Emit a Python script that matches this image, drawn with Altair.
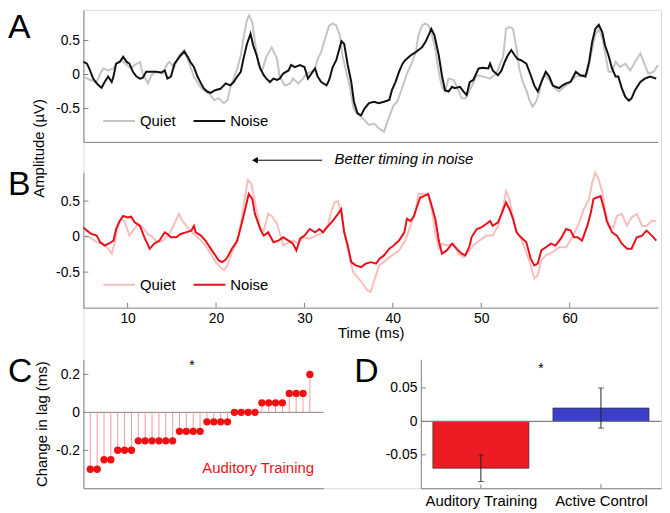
import altair as alt
import pandas as pd

FONT = "Liberation Sans"
AXC = "#808080"

# ---------------- data ----------------
a_quiet_t = [5.0,5.75,6.5,6.9,7.25,7.8,8.4,8.7,9.3,9.9,10.4,10.8,11.4,11.7,12.3,12.7,13.2,14.0,14.4,14.7,15.3,15.8,16.4,16.9,17.5,18.1,18.6,19.2,19.8,20.3,20.9,21.3,21.6,22.0,22.4,22.8,23.1,23.5,23.76,24.1,24.4,24.8,25.2,25.7,26.3,26.9,27.2,27.8,28.4,28.7,29.3,29.85,30.2,30.8,31.2,31.5,31.9,32.5,32.8,33.2,33.6,34.0,34.3,34.7,35.1,35.6,36.2,36.8,37.3,37.9,38.4,39.0,39.4,39.8,40.1,40.5,41.1,41.6,42.2,42.6,42.9,43.3,43.7,44.05,44.4,44.8,45.2,45.55,45.9,46.3,46.9,47.4,47.8,48.2,48.7,49.5,50.2,51.0,51.7,52.1,52.5,52.8,53.2,53.6,54.0,54.3,54.7,55.1,55.45,55.8,56.2,56.6,56.9,57.3,57.7,58.25,58.8,59.4,59.9,60.7,61.4,62.0,62.55,62.9,63.3,63.7,64.0,64.4,64.8,65.2,65.7,66.3,66.85,67.4,68.0,68.3,68.9,69.5,70.0]
a_quiet_v = [-0.03,-0.08,-0.11,0.015,0.09,0.06,0.09,0.16,0.21,0.14,0.09,0.14,0.185,0.015,-0.13,-0.01,0.04,0.015,0.14,0.185,0.11,0.28,0.36,0.185,-0.03,-0.16,-0.23,-0.28,-0.375,-0.35,-0.42,-0.375,-0.2,-0.06,0.09,0.28,0.53,0.8,0.87,0.77,0.48,0.14,0.06,0.26,0.4,0.23,-0.03,-0.16,-0.13,-0.06,-0.13,-0.06,0.015,0.04,0.09,0.23,0.33,0.6,0.72,0.75,0.72,0.58,0.28,0.06,-0.16,-0.52,-0.6,-0.67,-0.74,-0.72,-0.79,-0.84,-0.69,-0.55,-0.45,-0.4,-0.18,0.015,0.185,0.33,0.58,0.72,0.75,0.72,0.6,0.38,0.04,-0.18,-0.25,-0.06,-0.08,-0.23,-0.35,-0.35,-0.23,-0.01,-0.03,-0.06,0.015,0.14,0.28,0.67,0.7,0.67,0.38,0.09,-0.11,-0.23,-0.375,-0.47,-0.4,-0.25,-0.06,-0.01,-0.08,-0.2,-0.25,-0.18,-0.13,-0.03,-0.01,0.015,0.38,0.58,0.67,0.53,0.33,0.04,0.04,0.185,0.11,0.16,0.06,0.185,0.31,0.21,0.015,0.04,0.14]

a_noise_t = [5.0,5.4,5.75,6.1,6.5,6.9,7.06,7.4,7.8,8.2,8.4,8.7,9.1,9.5,9.9,10.2,10.6,11.0,11.4,11.7,12.1,12.7,13.2,13.8,14.2,14.5,14.9,15.3,15.7,16.0,16.4,16.8,17.1,17.5,17.9,18.3,18.6,19.0,19.4,19.9,20.5,21.1,21.6,22.0,22.4,22.8,23.1,23.5,23.9,24.2,24.6,25.0,25.4,25.7,26.1,26.5,26.9,27.2,27.6,28.2,28.5,28.9,29.5,30.0,30.4,30.8,31.2,31.5,31.9,32.5,32.8,33.2,33.6,34.0,34.2,34.5,34.9,35.3,35.6,36.0,36.4,36.8,37.3,37.9,38.4,39.0,39.6,39.9,40.3,40.7,41.1,41.4,42.0,42.6,42.9,43.3,43.7,44.05,44.35,44.7,45.2,45.55,45.9,46.3,46.7,47.0,47.6,48.0,48.35,48.7,49.1,49.7,50.2,50.8,51.0,51.3,51.9,52.3,52.65,53.0,53.4,53.8,54.1,54.5,55.1,55.6,56.0,56.4,56.8,57.3,57.7,58.1,58.4,58.8,59.2,59.6,60.1,60.7,61.2,61.8,62.2,62.55,62.9,63.3,63.7,64.0,64.4,64.8,65.2,65.5,65.9,66.3,66.7,67.0,67.4,68.0,68.5,69.1,69.8]
a_noise_v = [0.185,0.16,0.06,-0.06,-0.13,-0.18,-0.195,-0.11,-0.03,-0.11,-0.03,0.16,0.185,0.26,0.185,0.16,0.04,-0.03,-0.06,-0.05,0.04,0.04,0.04,0.03,0.06,-0.06,-0.03,0.16,0.23,0.28,0.34,0.26,0.185,0.11,-0.03,-0.13,-0.2,-0.25,-0.27,-0.23,-0.21,-0.13,-0.16,-0.11,-0.03,0.04,0.23,0.45,0.6,0.43,0.28,0.09,-0.01,-0.06,-0.11,-0.06,-0.08,-0.06,0.015,0.06,0.14,0.11,0.14,0.11,-0.06,0.015,0.09,-0.03,-0.11,-0.16,-0.08,0.11,0.21,0.4,0.49,0.45,0.14,-0.11,-0.4,-0.57,-0.6,-0.5,-0.42,-0.4,-0.42,-0.4,-0.375,-0.23,-0.11,0.04,0.16,0.21,0.28,0.33,0.36,0.4,0.48,0.58,0.67,0.58,0.28,-0.01,-0.23,-0.25,-0.18,-0.2,-0.18,-0.25,-0.3,-0.11,-0.08,0.09,0.1,0.09,0.16,0.06,-0.01,0.06,0.185,0.28,0.36,0.28,0.23,0.21,0.16,-0.01,-0.16,-0.25,-0.11,0.04,-0.03,-0.16,-0.18,-0.2,-0.16,-0.13,-0.11,0.04,-0.01,-0.03,0.185,0.48,0.67,0.73,0.62,0.43,0.28,0.09,-0.03,-0.03,-0.2,-0.33,-0.385,-0.35,-0.23,-0.11,-0.06,-0.03,-0.06]

b_quiet_t = [5.0,5.75,6.5,7.25,7.8,8.2,8.55,8.9,9.3,9.7,10.2,10.6,11.2,11.7,12.3,12.85,13.4,14.0,14.7,15.3,15.8,16.2,16.8,17.5,18.3,18.8,19.4,19.95,20.5,20.9,21.3,21.8,22.4,22.9,23.3,23.6,24.0,24.4,25.0,25.4,25.9,26.3,26.9,27.6,28.2,28.7,29.3,29.85,30.6,31.35,32.1,32.7,33.0,33.4,33.8,34.15,34.5,34.9,35.5,36.0,36.6,37.1,37.5,37.9,38.45,39.2,39.9,40.7,41.4,42.0,42.6,42.9,43.5,44.05,44.4,44.8,45.2,45.55,46.1,46.9,47.4,48.0,48.7,49.1,49.8,50.6,51.3,51.9,52.5,52.8,53.2,53.6,54.0,54.5,55.1,55.6,56.0,56.4,56.8,57.3,58.1,58.8,59.6,60.3,61.1,61.6,62.2,62.55,62.9,63.3,63.7,64.0,64.4,64.95,65.35,65.9,66.5,67.0,67.6,68.2,68.7,69.3,69.8]
b_quiet_v = [0.014,-0.01,-0.08,-0.1,-0.17,-0.24,-0.08,0.15,0.25,0.2,0.014,0.084,0.18,0.13,0.037,-0.01,-0.08,-0.056,0.037,0.18,0.32,0.22,0.13,0.037,-0.056,-0.126,-0.24,-0.36,-0.43,-0.475,-0.405,-0.22,-0.08,0.25,0.57,0.8,0.74,0.48,0.13,0.084,0.32,0.29,0.18,-0.126,-0.08,-0.056,-0.1,-0.01,-0.03,0.014,0.06,0.18,0.34,0.48,0.5,0.34,0.06,-0.17,-0.5,-0.57,-0.66,-0.755,-0.78,-0.615,-0.405,-0.335,-0.265,-0.195,-0.056,0.15,0.386,0.6,0.6,0.57,0.386,0.06,-0.17,-0.1,-0.126,-0.1,-0.24,-0.29,-0.195,-0.126,-0.056,0.014,0.014,0.15,0.43,0.64,0.53,0.25,0.06,-0.03,-0.22,-0.405,-0.59,-0.545,-0.335,-0.265,-0.22,-0.15,-0.15,-0.01,0.2,0.386,0.53,0.76,0.9,0.8,0.62,0.386,0.15,0.13,0.29,0.32,0.15,0.27,0.32,0.15,0.15,0.22,0.22]

b_noise_t = [5.0,5.4,5.9,6.5,6.9,7.4,8.0,8.4,8.7,9.1,9.5,10.0,10.4,10.8,11.4,11.9,12.5,13.0,13.6,14.2,14.5,14.9,15.5,16.0,16.6,17.2,17.5,17.7,18.3,18.8,19.4,19.95,20.3,20.7,21.1,21.4,21.8,22.4,22.9,23.3,23.7,24.1,24.4,25.0,25.4,25.9,26.5,27.05,27.6,28.2,28.7,29.1,29.5,30.0,30.6,31.2,31.7,32.1,32.7,33.2,33.8,34.15,34.5,34.9,35.3,35.8,36.4,36.95,37.5,38.1,38.5,39.0,39.6,40.1,40.7,41.3,41.6,42.0,42.4,42.7,43.1,43.5,44.0,44.4,44.8,45.2,45.55,46.1,46.7,47.2,47.8,48.2,48.7,48.9,49.5,50.0,50.6,51.0,51.3,51.9,52.3,52.8,53.2,53.6,54.0,54.5,55.1,55.6,56.0,56.4,56.8,57.3,57.9,58.4,59.0,59.6,60.1,60.5,60.9,61.4,62.0,62.4,62.7,63.1,63.5,63.9,64.2,64.8,65.35,65.9,66.5,67.0,67.6,68.2,68.7,69.3,69.8]
b_noise_v = [0.13,0.084,0.037,0.014,-0.08,-0.126,-0.09,-0.056,0.107,0.22,0.29,0.27,0.28,0.2,0.15,-0.01,-0.17,-0.1,-0.056,0.06,0.037,-0.01,-0.01,0.037,0.06,0.084,0.15,0.06,0.014,-0.056,-0.17,-0.27,-0.335,-0.36,-0.325,-0.265,-0.17,-0.056,0.18,0.386,0.6,0.53,0.32,0.107,0.014,0.06,-0.08,-0.056,-0.01,-0.056,-0.1,-0.195,-0.03,0.014,0.107,0.06,0.107,0.06,0.15,0.22,0.32,0.386,0.06,-0.126,-0.36,-0.405,-0.43,-0.38,-0.36,-0.38,-0.31,-0.265,-0.17,-0.126,-0.056,0.06,0.25,0.22,0.29,0.41,0.55,0.57,0.6,0.43,0.25,-0.056,-0.24,-0.195,-0.1,-0.17,-0.24,-0.265,-0.126,-0.01,0.107,0.13,0.18,0.22,0.15,0.2,0.32,0.48,0.386,0.25,0.06,-0.01,-0.08,-0.31,-0.405,-0.38,-0.195,-0.15,-0.1,-0.126,-0.03,0.107,0.084,-0.01,-0.01,-0.056,0.15,0.34,0.53,0.55,0.57,0.386,0.22,0.06,0.014,-0.1,-0.17,-0.17,-0.01,0.014,0.084,0.014,-0.056]

c_change = [-0.3,-0.3,-0.25,-0.25,-0.2,-0.2,-0.2,-0.15,-0.15,-0.15,-0.15,-0.15,-0.15,
            -0.1,-0.1,-0.1,-0.1,-0.05,-0.05,-0.05,-0.05,0,0,0,0,0.05,0.05,0.05,0.05,0.1,0.1,0.1,0.2]

d_groups = ["Auditory Training", "Active Control"]
d_means = [-0.07, 0.02]
d_err_low = [-0.09, -0.01]
d_err_high = [-0.05, 0.05]

conditions = ["Quiet", "Noise"]
a_colors = ["#C4C4C4", "#111111"]
b_colors = ["#F7BEBE", "#E8111A"]
d_colors = ["#ED1C24", "#3C40C8"]
RED = "#E8111A"

# ---------------- layout ----------------
W, H = 582, 482
SA_X = alt.Scale(domain=[5, 70], range=[0, 579], nice=False, zero=False)
SA_Y = alt.Scale(domain=[-0.99, 0.95], range=[133, 0], nice=False, zero=False)
SB_Y = alt.Scale(domain=[-1.0, 0.9], range=[300, 164], nice=False, zero=False)
SC_X = alt.Scale(domain=[0, 35], range=[0, 242], nice=False, zero=False)
SC_Y = alt.Scale(domain=[-0.4, 0.28], range=[482, 352], nice=False, zero=False)
SD_X = alt.Scale(domain=[0.5, 2.5], range=[340, 582], nice=False, zero=False)
SD_Y = alt.Scale(domain=[-0.1, 0.093], range=[482, 352], nice=False, zero=False)


def px_per_unit(s):
    return abs(s.range[1] - s.range[0]) / abs(s.domain[1] - s.domain[0])


def yaxis(values, offset=0, **kw):
    return alt.Axis(orient="left", offset=offset, values=values, labelExpr="datum.value + ''",
                    grid=False, ticks=False, tickSize=0, labelPadding=4, domainColor=AXC,
                    labelColor="#000", labelFont=FONT, labelFontSize=14, **kw)


def legend(x, y):
    return alt.Legend(orient="none", legendX=x, legendY=y, direction="horizontal", title=None,
                      symbolType="stroke", symbolSize=1024, symbolStrokeWidth=2,
                      labelFont=FONT, labelFontSize=15, labelColor="#000", labelOffset=4,
                      columnPadding=14, padding=0)


def letter(ch, x, y):
    return alt.Chart(pd.DataFrame({"s": [ch]})).mark_text(
        font=FONT, fontSize=34, align="left", baseline="alphabetic", color="#000"
    ).encode(text="s:N", x=alt.value(x), y=alt.value(y))


def yticks(vals, sx, sy, length=5):
    x0 = sx.domain[0]
    x1 = x0 + length / px_per_unit(sx)
    df = pd.DataFrame({"v": vals, "x0": [x0] * len(vals), "x1": [x1] * len(vals)})
    return alt.Chart(df).mark_rule(color=AXC, strokeWidth=1).encode(
        x=alt.X("x0:Q", scale=sx, axis=None), x2="x1:Q", y=alt.Y("v:Q", scale=sy, axis=None))


def xticks(vals, sx, sy, length=5):
    y0 = sy.domain[0]
    y1 = y0 + length / px_per_unit(sy)
    df = pd.DataFrame({"v": vals, "y0": [y0] * len(vals), "y1": [y1] * len(vals)})
    return alt.Chart(df).mark_rule(color=AXC, strokeWidth=1).encode(
        x=alt.X("v:Q", scale=sx, axis=None), y=alt.Y("y0:Q", scale=sy, axis=None), y2="y1:Q")


def waves(qt, qv, nt, nv):
    return pd.DataFrame({"t": qt + nt, "v": qv + nv,
                         "cond": [conditions[0]] * len(qt) + [conditions[1]] * len(nt)})


# ---------------- panel A ----------------
lineA = alt.Chart(waves(a_quiet_t, a_quiet_v, a_noise_t, a_noise_v)).mark_line(strokeWidth=2).encode(
    x=alt.X("t:Q", scale=SA_X, axis=alt.Axis(orient="bottom", offset=133 - H, labels=False, ticks=False,
                                              domainColor=AXC, grid=False, title=None)),
    y=alt.Y("v:Q", scale=SA_Y, axis=yaxis([-0.5, 0, 0.5], title="Amplitude (µV)", titleX=-45, titleY=139,
                                          titleAngle=270, titleAlign="center", titleBaseline="middle",
                                          titleFont=FONT, titleFontSize=15, titleFontWeight="normal",
                                          titleColor="#000")),
    color=alt.Color("cond:N", scale=alt.Scale(domain=conditions, range=a_colors), legend=legend(19, 95)),
)
ticksA = yticks([-0.5, 0, 0.5], SA_X, SA_Y)

# ---------------- panel B ----------------
lineB = alt.Chart(waves(b_quiet_t, b_quiet_v, b_noise_t, b_noise_v)).mark_line(strokeWidth=2).encode(
    x=alt.X("t:Q", scale=SA_X, axis=alt.Axis(orient="bottom", offset=300 - H, values=[10, 20, 30, 40, 50, 60],
                                              ticks=False, tickSize=0, labelPadding=4, domainColor=AXC,
                                              grid=False, labelFont=FONT, labelFontSize=14, labelColor="#000",
                                              title="Time (ms)", titleFont=FONT, titleFontSize=15,
                                              titleFontWeight="normal", titleColor="#000", titlePadding=0)),
    y=alt.Y("v:Q", scale=SB_Y, axis=yaxis([-0.5, 0, 0.5], title=None)),
    color=alt.Color("cond:N", scale=alt.Scale(domain=conditions, range=b_colors), legend=legend(19, 260)),
)
ticksBy = yticks([-0.5, 0, 0.5], SA_X, SB_Y)
ticksBx = xticks([10, 20, 30, 40, 50, 60], SA_X, SB_Y)

note_df = pd.DataFrame({"t": [33.4], "v": [1.085], "s": ["Better timing in noise"]})
noteB = alt.Chart(note_df).mark_text(font=FONT, fontSize=15, fontStyle="italic", align="left",
                                      baseline="middle", color="#000").encode(
    x=alt.X("t:Q", scale=SA_X, axis=None), y=alt.Y("v:Q", scale=SB_Y, axis=None), text="s:N")
arrow_df = pd.DataFrame({"t0": [32.0], "t1": [24.4], "v": [1.075]})
arrowB = alt.Chart(arrow_df).mark_rule(color="#000", strokeWidth=1).encode(
    x=alt.X("t0:Q", scale=SA_X, axis=None), x2="t1:Q", y=alt.Y("v:Q", scale=SB_Y, axis=None))
headB = alt.Chart(arrow_df).mark_point(shape="triangle-left", filled=True, size=45, color="#000", opacity=1).encode(
    x=alt.X("t1:Q", scale=SA_X, axis=None), y=alt.Y("v:Q", scale=SB_Y, axis=None))

# ---------------- panel C ----------------
c_df = pd.DataFrame({"idx": list(range(1, len(c_change) + 1)), "change": c_change})
zeroC = alt.Chart(pd.DataFrame({"x0": [SC_X.domain[0]], "x1": [SC_X.domain[1]], "y": [0]})).mark_rule(
    color=AXC, strokeWidth=1).encode(
    x=alt.X("x0:Q", scale=SC_X, axis=alt.Axis(orient="bottom", offset=0, labels=False, ticks=False,
                                               domainColor=AXC, grid=False, title=None)),
    x2="x1:Q",
    y=alt.Y("y:Q", scale=SC_Y, axis=yaxis([-0.2, 0, 0.2], title="Change in lag (ms)", titleFont=FONT,
                                          titleFontSize=15, titleFontWeight="normal", titleColor="#000",
                                          titlePadding=6)))
stemsC = alt.Chart(c_df).transform_calculate(zero="0").mark_rule(color="#F29A9A", strokeWidth=1).encode(
    x=alt.X("idx:Q", scale=SC_X, axis=None), y=alt.Y("change:Q", scale=SC_Y, axis=None), y2="zero:Q")
dotsC = alt.Chart(c_df).mark_circle(size=55, color="#EE1111", opacity=1).encode(
    x=alt.X("idx:Q", scale=SC_X, axis=None), y=alt.Y("change:Q", scale=SC_Y, axis=None))
ticksC = yticks([-0.2, 0.2], SC_X, SC_Y)
starC = alt.Chart(pd.DataFrame({"x": [15.8], "y": [0.245], "s": ["*"]})).mark_text(
    font=FONT, fontSize=14, color="#000", baseline="middle").encode(
    x=alt.X("x:Q", scale=SC_X, axis=None), y=alt.Y("y:Q", scale=SC_Y, axis=None), text="s:N")
labC = alt.Chart(pd.DataFrame({"x": [33.6], "y": [-0.296], "s": ["Auditory Training"]})).mark_text(
    font=FONT, fontSize=15, color=RED, align="right", baseline="middle").encode(
    x=alt.X("x:Q", scale=SC_X, axis=None), y=alt.Y("y:Q", scale=SC_Y, axis=None), text="s:N")

# ---------------- panel D ----------------
d_df = pd.DataFrame({"group": d_groups, "mean": d_means, "lo": d_err_low, "hi": d_err_high,
                     "pos": list(range(1, len(d_groups) + 1))})
group_expr = "[" + ",".join("'" + g + "'" for g in d_groups) + "][datum.value - 1]"
zeroD = alt.Chart(pd.DataFrame({"x0": [SD_X.domain[0]], "x1": [SD_X.domain[1]], "y": [0]})).mark_rule(
    color=AXC, strokeWidth=1).encode(
    x=alt.X("x0:Q", scale=SD_X, axis=alt.Axis(orient="bottom", offset=0, values=list(d_df["pos"]),
                                               labelExpr=group_expr, ticks=False, tickSize=0, labelPadding=5,
                                               domainColor=AXC, grid=False, title=None, labelFont=FONT,
                                               labelFontSize=15, labelColor="#000", labelFlush=False)),
    x2="x1:Q",
    y=alt.Y("y:Q", scale=SD_Y, axis=yaxis([-0.05, 0, 0.05], offset=-340, title=None)))
barsD = alt.Chart(d_df).transform_calculate(
    x0="datum.pos - 0.4", x1="datum.pos + 0.4", zero="0").mark_rect(stroke="#333", strokeWidth=0.7).encode(
    x=alt.X("x0:Q", scale=SD_X, axis=None), x2="x1:Q",
    y=alt.Y("mean:Q", scale=SD_Y, axis=None), y2="zero:Q",
    color=alt.Color("group:N", scale=alt.Scale(domain=d_groups, range=d_colors), legend=None))
zeroD2 = alt.Chart(pd.DataFrame({"x0": [SD_X.domain[0]], "x1": [SD_X.domain[1]], "y": [0]})).mark_rule(
    color=AXC, strokeWidth=1).encode(
    x=alt.X("x0:Q", scale=SD_X, axis=None), x2="x1:Q", y=alt.Y("y:Q", scale=SD_Y, axis=None))
errD = alt.Chart(d_df).mark_rule(color="#222", strokeWidth=1).encode(
    x=alt.X("pos:Q", scale=SD_X, axis=None), y=alt.Y("lo:Q", scale=SD_Y, axis=None), y2="hi:Q")
capLo = alt.Chart(d_df).mark_tick(orient="horizontal", size=6, thickness=1, color="#222").encode(
    x=alt.X("pos:Q", scale=SD_X, axis=None), y=alt.Y("lo:Q", scale=SD_Y, axis=None))
capHi = alt.Chart(d_df).mark_tick(orient="horizontal", size=6, thickness=1, color="#222").encode(
    x=alt.X("pos:Q", scale=SD_X, axis=None), y=alt.Y("hi:Q", scale=SD_Y, axis=None))
ticksDy = yticks([-0.05, 0.05], SD_X, SD_Y)
ticksDx = xticks(list(d_df["pos"]), SD_X, SD_Y, length=4)
starD = alt.Chart(pd.DataFrame({"x": [1.5], "y": [0.079], "s": ["*"]})).mark_text(
    font=FONT, fontSize=14, color="#000", baseline="middle").encode(
    x=alt.X("x:Q", scale=SD_X, axis=None), y=alt.Y("y:Q", scale=SD_Y, axis=None), text="s:N")

chart = alt.layer(
    lineA, ticksA, letter("A", -76, 28),
    lineB, ticksBy, ticksBx, noteB, arrowB, headB, letter("B", -76, 187),
    zeroC, stemsC, dotsC, ticksC, starC, labC, letter("C", -76, 375),
    zeroD, barsD, zeroD2, errD, capLo, capHi, ticksDy, ticksDx, starD, letter("D", 273, 375),
).resolve_scale(x="independent", y="independent", color="independent").properties(
    width=W, height=H, padding=0
).configure_view(stroke=None).configure(background="white")

chart.save("out.html", embed_options={"renderer": "svg", "actions": False})
